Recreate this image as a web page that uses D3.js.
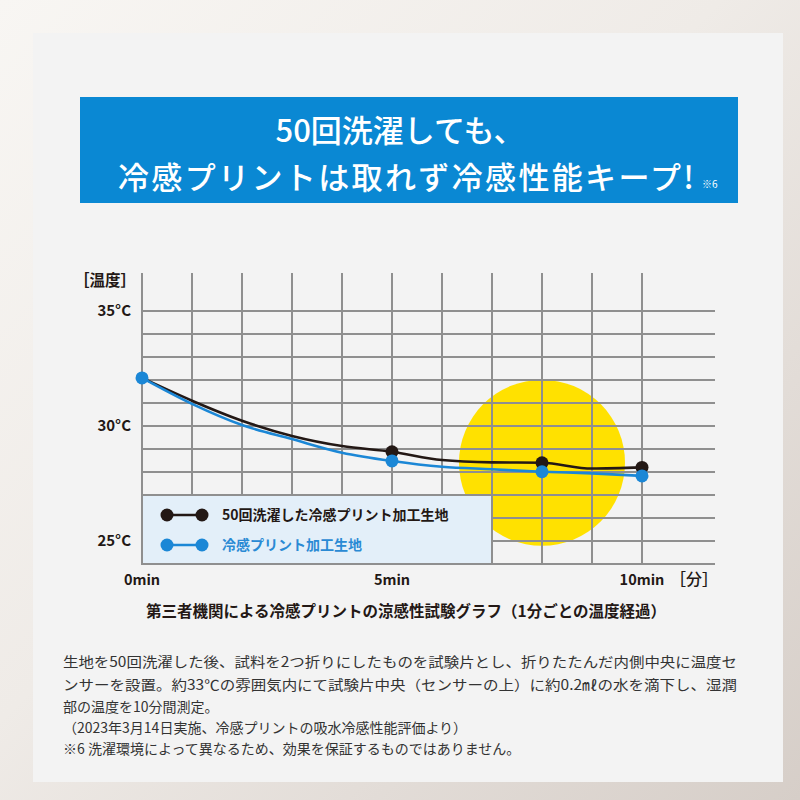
<!DOCTYPE html>
<html><head><meta charset="utf-8">
<script src="https://cdn.jsdelivr.net/npm/d3@7"></script>
<style>body{margin:0;background:#fff}svg{display:block}text{font-family:"Noto Sans CJK JP","Noto Sans",sans-serif}</style>
</head><body>
<script>
const minutes = [0,1,2,3,4,5,6,7,8,9,10];
const washed50 = [32.09,31.10,30.23,29.57,29.13,28.88,28.52,28.42,28.40,28.15,28.20];
const original = [32.09,30.96,30.04,29.43,28.84,28.48,28.23,28.12,28.01,27.94,27.83];
const washedMarkers = [5,8,10];
const originalMarkers = [0,5,8,10];
const yTicks = [35,30,25];
const xTicks = [0,5,10];
const seriesNames = ["50回洗濯した冷感プリント加工生地","冷感プリント加工生地"];
const titleLines = ["50回洗濯しても、","冷感プリントは取れず冷感性能キープ!"];
const caption = "第三者機関による冷感プリントの涼感性試験グラフ（1分ごとの温度経過）";
const notes = [
 "生地を50回洗濯した後、試料を2つ折りにしたものを試験片とし、折りたたんだ内側中央に温度セ",
 "ンサーを設置。約33℃の雰囲気内にて試験片中央（センサーの上）に約0.2㎖の水を滴下し、湿潤",
 "部の温度を10分間測定。",
 "（2023年3月14日実施、冷感プリントの吸水冷感性能評価より）",
 "※6 洗濯環境によって異なるため、効果を保証するものではありません。"
];

const W=800,H=800;
const svg=d3.select("body").append("svg").attr("width",W).attr("height",H);
const defs=svg.append("defs");
const g0=defs.append("linearGradient").attr("id","bg").attr("x1","0").attr("y1","0").attr("x2","1").attr("y2","1");
g0.append("stop").attr("offset","0").attr("stop-color","#f8f6f3");
g0.append("stop").attr("offset","0.45").attr("stop-color","#efebe7");
g0.append("stop").attr("offset","1").attr("stop-color","#d6cec8");
svg.append("rect").attr("width",W).attr("height",H).attr("fill","url(#bg)");
svg.append("rect").attr("x",33).attr("y",33).attr("width",750).attr("height",749).attr("fill","#f3f3f3");

// title
svg.append("rect").attr("x",80).attr("y",97).attr("width",658).attr("height",106).attr("fill","#0a88d3");
svg.append("text").attr("x",400).attr("y",142).attr("text-anchor","middle").attr("fill","#fff")
  .attr("font-size",31).attr("font-weight",500).text(titleLines[0]);
svg.append("text").attr("x",118).attr("y",189).attr("fill","#fff")
  .attr("font-size",31).attr("font-weight",500).attr("textLength",576).attr("lengthAdjust","spacing").text(titleLines[1]);
svg.append("text").attr("x",702).attr("y",188).attr("fill","#fff").attr("font-size",10).text("※6");

// scales
const x=d3.scaleLinear().domain([0,10]).range([142,642]);
const y=d3.scaleLinear().domain([24,35]).range([564,311]);
const xEnd=715, yTop=y(36.65);

// yellow circle
svg.append("circle").attr("cx",x(8)).attr("cy",y(28.4)).attr("r",83).attr("fill","#ffe100");

// grid
const grid=svg.append("g").attr("stroke","#8f8f8f").attr("stroke-width",2);
grid.selectAll("line.h").data(d3.range(24,36)).join("line")
  .attr("x1",x(0)).attr("x2",xEnd).attr("y1",d=>y(d)).attr("y2",d=>y(d));
grid.selectAll("line.v").data(minutes).join("line")
  .attr("x1",d=>x(d)).attr("x2",d=>x(d)).attr("y1",yTop).attr("y2",y(24));

// legend box
svg.append("rect").attr("x",x(0)).attr("y",y(27)).attr("width",x(7)-x(0)).attr("height",y(24)-y(27))
  .attr("fill","#e3eff9").attr("stroke","#8f8f8f").attr("stroke-width",2);

// lines
const line=d3.line().x((d,i)=>x(minutes[i])).y(d=>y(d)).curve(d3.curveMonotoneX);
svg.append("path").datum(washed50).attr("d",line).attr("fill","none").attr("stroke","#231815").attr("stroke-width",2.6);
svg.append("path").datum(original).attr("d",line).attr("fill","none").attr("stroke","#1b87d6").attr("stroke-width",2.6);
svg.selectAll("circle.w").data(washedMarkers).join("circle").attr("cx",d=>x(d)).attr("cy",d=>y(washed50[d])).attr("r",6.5).attr("fill","#231815");
svg.selectAll("circle.o").data(originalMarkers).join("circle").attr("cx",d=>x(d)).attr("cy",d=>y(original[d])).attr("r",6.5).attr("fill","#1b87d6");

// legend content
const lg=[{c:"#231815",t:seriesNames[0],tc:"#231815",yy:515},{c:"#1b87d6",t:seriesNames[1],tc:"#2a8ad4",yy:545}];
lg.forEach(o=>{
  svg.append("line").attr("x1",167).attr("x2",202).attr("y1",o.yy).attr("y2",o.yy).attr("stroke",o.c).attr("stroke-width",2.5);
  svg.append("circle").attr("cx",167).attr("cy",o.yy).attr("r",6.5).attr("fill",o.c);
  svg.append("circle").attr("cx",202).attr("cy",o.yy).attr("r",6.5).attr("fill",o.c);
  svg.append("text").attr("x",222).attr("y",o.yy+5).attr("fill",o.tc).attr("font-size",14).attr("font-weight",700).text(o.t);
});

// axis labels
svg.append("text").attr("x",136).attr("y",286).attr("text-anchor","end").attr("font-size",15.5).attr("font-weight",700).attr("fill","#231815").text("［温度］");
svg.selectAll("text.yt").data(yTicks).join("text").attr("x",131).attr("y",d=>y(d)+5).attr("text-anchor","end")
  .attr("font-size",15).attr("font-weight",700).attr("fill","#231815").text(d=>d+"°C");
svg.selectAll("text.xt").data(xTicks).join("text").attr("x",d=>x(d)).attr("y",585).attr("text-anchor","middle")
  .attr("font-size",14.5).attr("font-weight",700).attr("fill","#231815").text(d=>d+"min");
svg.append("text").attr("x",718).attr("y",585).attr("text-anchor","end").attr("font-size",16).attr("font-weight",500).attr("fill","#231815").text("［分］");

svg.append("text").attr("x",406).attr("y",617).attr("text-anchor","middle").attr("font-size",15.5).attr("font-weight",700).attr("fill","#231815").text(caption);

const ny=[667,690,712,733,754];
notes.forEach((t,i)=>{
  const tx=svg.append("text").attr("x",63).attr("y",ny[i]).attr("font-size",14).attr("fill","#333").text(t);
  if(i<2) tx.attr("textLength",674).attr("lengthAdjust","spacingAndGlyphs");
});
</script>
</body></html>
